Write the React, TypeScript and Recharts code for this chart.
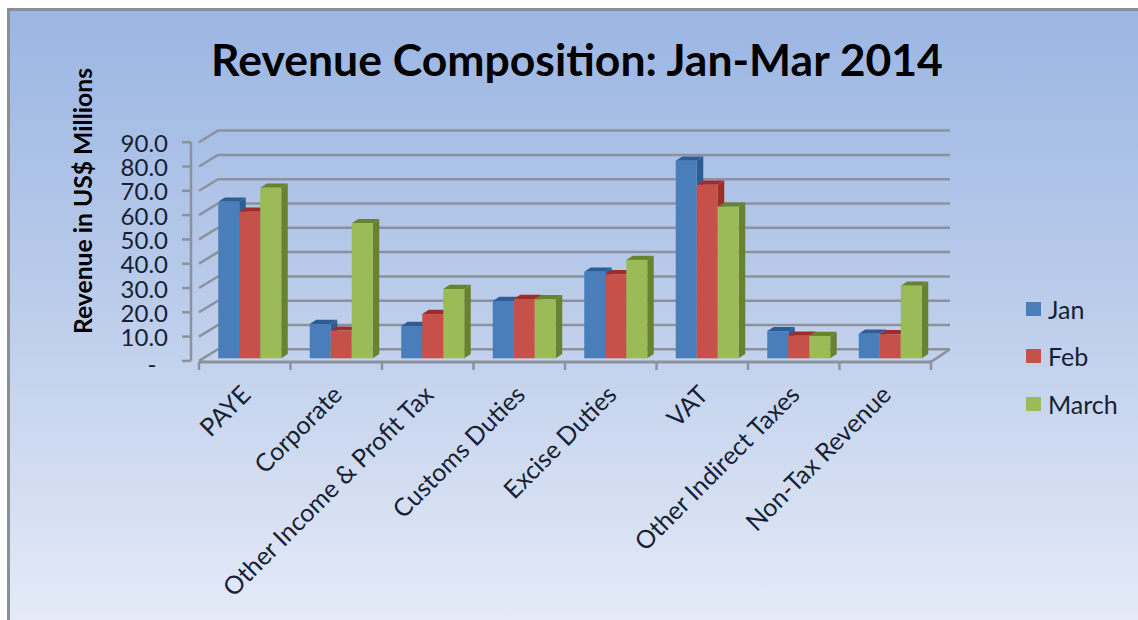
import { BarChart, Bar, XAxis, YAxis, CartesianGrid, Legend } from "recharts";

const categories = [
  "PAYE",
  "Corporate",
  "Other Income & Profit Tax",
  "Customs Duties",
  "Excise Duties",
  "VAT",
  "Other Indirect Taxes",
  "Non-Tax Revenue",
];
const jan = [64.4, 14.1, 13.3, 23.6, 35.6, 81.3, 11.2, 10.1];
const feb = [60.3, 11.4, 18.2, 24.4, 34.6, 71.4, 9.3, 9.9];
const march = [70.2, 55.6, 28.5, 24.3, 40.5, 62.4, 9.2, 29.9];
const yTicks = [0, 10, 20, 30, 40, 50, 60, 70, 80, 90];

const data = categories.map((name, i) => ({
  name,
  Jan: jan[i],
  Feb: feb[i],
  March: march[i],
}));

const GRID = "#8b929d";
const TEXT = "#161f33";
const FONT = "Lato, sans-serif";

const PLOT_LEFT = 199;
const PLOT_RIGHT = 931;
const PLOT_TOP = 139.6;
const PLOT_BOTTOM = 358.3;
const STEP = (PLOT_BOTTOM - PLOT_TOP) / 9;
const BAND = (PLOT_RIGHT - PLOT_LEFT) / categories.length;

// the fake 3D look: walls sit up and to the right of the axis
const WALL_DX = 19;
const FRONT_DY = 2.6;
const WALL_DY = -9;

function box3d(top: string, side: string) {
  return (props: any) => {
    const { y, width, height } = props;
    const x = props.x + 4.5;
    const dx = 6.5;
    const dy = 4.2;
    return (
      <g>
        <polygon
          points={`${x},${y} ${x + dx},${y - dy} ${x + width + dx},${y - dy} ${x + width},${y}`}
          fill={top}
        />
        <polygon
          points={`${x + width},${y} ${x + width + dx},${y - dy} ${x + width + dx},${y + height - dy} ${x + width},${y + height}`}
          fill={side}
        />
        <rect x={x} y={y} width={width} height={height} fill={props.fill} />
      </g>
    );
  };
}

function gridLine(props: any) {
  const { x1, x2, y1 } = props;
  const isFloor = Math.abs(y1 - PLOT_BOTTOM) < 1;
  const backY = y1 + WALL_DY;
  const frontY = y1 + FRONT_DY;
  return (
    <g key={props.key ?? y1} fill="none" stroke={GRID} strokeWidth={2.5}>
      <polyline
        points={`${x1},${frontY} ${x1 + WALL_DX},${backY} ${x2 + WALL_DX},${backY}`}
      />
      {isFloor && (
        <line x1={x2} y1={frontY + 1} x2={x2 + WALL_DX} y2={backY} />
      )}
    </g>
  );
}

function YTick(props: any) {
  const { x, y, payload } = props;
  const v = payload.value;
  const tickY = y + FRONT_DY;
  return (
    <g>
      <line x1={x - 9} x2={x} y1={tickY} y2={tickY} stroke={GRID} strokeWidth={2.5} />
      {v > 0 && (
        <line x1={x} x2={x} y1={tickY} y2={tickY + STEP} stroke={GRID} strokeWidth={2.5} />
      )}
      {v === 0 ? (
        <text x={152} y={tickY + 12} textAnchor="middle" fontSize={24} fontFamily={FONT} fill={TEXT}>
          -
        </text>
      ) : (
        <text x={168} y={tickY + 9.5} textAnchor="end" fontSize={24} fontFamily={FONT} fill={TEXT}>
          {v.toFixed(1)}
        </text>
      )}
    </g>
  );
}

function XTick(props: any) {
  const { x, payload } = props;
  const floor = PLOT_BOTTOM + FRONT_DY + 1;
  const left = x - BAND / 2;
  const right = x + BAND / 2;
  return (
    <g>
      <line x1={left} x2={right} y1={floor} y2={floor} stroke={GRID} strokeWidth={3} />
      <line x1={right} x2={right} y1={floor} y2={floor + 8} stroke={GRID} strokeWidth={2.5} />
      {payload.index === 0 && (
        <line x1={left} x2={left} y1={floor} y2={floor + 8} stroke={GRID} strokeWidth={2.5} />
      )}
      <text
        transform={`translate(${x - 5} 384) rotate(-45)`}
        textAnchor="end"
        dy="0.7em"
        fontSize={25}
        fontFamily={FONT}
        fill={TEXT}
      >
        {payload.value}
      </text>
    </g>
  );
}

function LegendBox(props: any) {
  return (
    <div>
      {props.payload.map((p: any) => (
        <div
          key={p.value}
          style={{ display: "flex", alignItems: "center", height: 47.5, color: TEXT, fontSize: 25, fontFamily: FONT }}
        >
          <span style={{ width: 15, height: 14, background: p.color, marginRight: 7 }} />
          {p.value}
        </div>
      ))}
    </div>
  );
}

export default function App() {
  return (
    <div style={{ position: "absolute", left: 0, top: 0, width: 1138, height: 620, overflow: "hidden", background: "#fff" }}>
      <div
        style={{
          position: "absolute",
          left: 7,
          top: 8,
          right: 0,
          bottom: 0,
          borderLeft: "3px solid #8a8e95",
          borderTop: "3px solid #8a8e95",
          background: "linear-gradient(180deg, #9bb6e3 0%, #b9cbea 45%, #e4eaf7 100%)",
        }}
      />
      <div
        style={{
          position: "absolute",
          left: 0,
          width: 1154,
          top: 32,
          textAlign: "center",
          fontFamily: FONT,
          fontWeight: 700,
          fontSize: 44.5,
          color: "#000",
          whiteSpace: "nowrap",
        }}
      >
        Revenue Composition: Jan-Mar 2014
      </div>
      <div
        style={{
          position: "absolute",
          left: 82,
          top: 201,
          transform: "translate(-50%, -50%) rotate(-90deg)",
          fontFamily: FONT,
          fontWeight: 700,
          fontSize: 24.7,
          color: "#000",
          whiteSpace: "nowrap",
        }}
      >
        Revenue in US$ Millions
      </div>
      <div style={{ position: "absolute", left: 0, top: 0 }}>
        <BarChart
          width={1138}
          height={620}
          data={data}
          barGap={0}
          barCategoryGap={14.75}
          margin={{ top: PLOT_TOP, right: 1138 - PLOT_RIGHT, bottom: 0, left: 0 }}
        >
          <CartesianGrid vertical={false} horizontal={gridLine} />
          <XAxis
            dataKey="name"
            height={620 - PLOT_BOTTOM}
            axisLine={false}
            tickLine={false}
            interval={0}
            tick={<XTick />}
          />
          <YAxis
            width={PLOT_LEFT}
            domain={[0, 90]}
            ticks={yTicks}
            axisLine={false}
            tickLine={false}
            tick={<YTick />}
          />
          <Legend
            layout="horizontal"
            align="center"
            verticalAlign="middle"
            itemSorter={null}
            wrapperStyle={{ left: 1026, top: 285, width: 110 }}
            content={<LegendBox />}
          />
          <Bar dataKey="Jan" fill="#4a7ebb" isAnimationActive={false} shape={box3d("#2e5c94", "#2e5c94")} />
          <Bar dataKey="Feb" fill="#c6504a" isAnimationActive={false} shape={box3d("#a02c2a", "#a02c2a")} />
          <Bar dataKey="March" fill="#9bbb59" isAnimationActive={false} shape={box3d("#68822f", "#68822f")} />
        </BarChart>
      </div>
    </div>
  );
}
